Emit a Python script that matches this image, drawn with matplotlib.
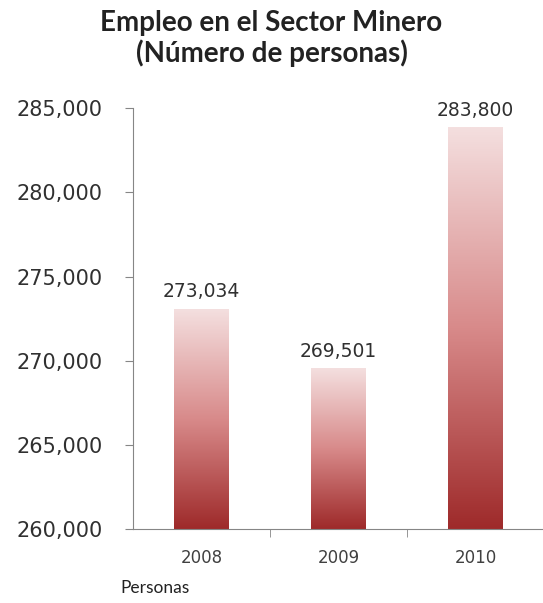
import numpy as np
import matplotlib.pyplot as plt
from matplotlib.colors import LinearSegmentedColormap
from matplotlib.ticker import FuncFormatter, FixedLocator

years = ['2008', '2009', '2010']
empleo = [273034, 269501, 283800]
yticks = [260000, 265000, 270000, 275000, 280000, 285000]

fig = plt.figure(figsize=(5.43, 6.03), dpi=100)
ax = fig.add_axes([0.245, 0.122, 0.757, 0.699])

# gradient from dark red (bottom) to light pink (top)
cmap = LinearSegmentedColormap.from_list('rojo', ['#9e2a2a', '#d88a8a', '#f4dfdf'])
grad = np.linspace(0, 1, 256).reshape(-1, 1)

x = np.arange(len(years))
bars = ax.bar(x, empleo, width=0.4, color='none', edgecolor='none')
for b in bars:
    x0, w = b.get_x(), b.get_width()
    ax.imshow(grad, cmap=cmap, origin='lower', aspect='auto',
              extent=[x0, x0 + w, 260000, b.get_height()], zorder=2)

for xi, v in zip(x, empleo):
    ax.text(xi, v + 500, f'{v:,}', ha='center', va='bottom',
            fontsize=13.5, color='#303030')

ax.set_xlim(-0.5, 2.5)
ax.set_ylim(260000, 285000)
ax.set_yticks(yticks)
ax.yaxis.set_major_formatter(FuncFormatter(lambda v, p: f'{int(v):,}'))
ax.tick_params(axis='y', labelsize=15, labelcolor='#303030', color='#868686',
               length=6, pad=16)
ax.set_xticks(x)
ax.set_xticklabels(years)
ax.xaxis.set_minor_locator(FixedLocator([0.5, 1.5]))
ax.tick_params(axis='x', which='major', length=0, labelsize=12,
               labelcolor='#404040', pad=14)
ax.tick_params(axis='x', which='minor', length=6, color='#868686')

for s in ['top', 'right']:
    ax.spines[s].set_visible(False)
for s in ['left', 'bottom']:
    ax.spines[s].set_color('#868686')

fig.text(0.5, 0.936, 'Empleo en el Sector Minero\n(Número de personas)',
         ha='center', va='center', fontsize=20, fontweight='bold',
         family='Lato', color='#222222', linespacing=1.15)
fig.text(0.221, 0.025, 'Personas', ha='left', va='center', fontsize=12.5,
         family='Lato', color='#222222')

fig.savefig('out.png', dpi=100)
